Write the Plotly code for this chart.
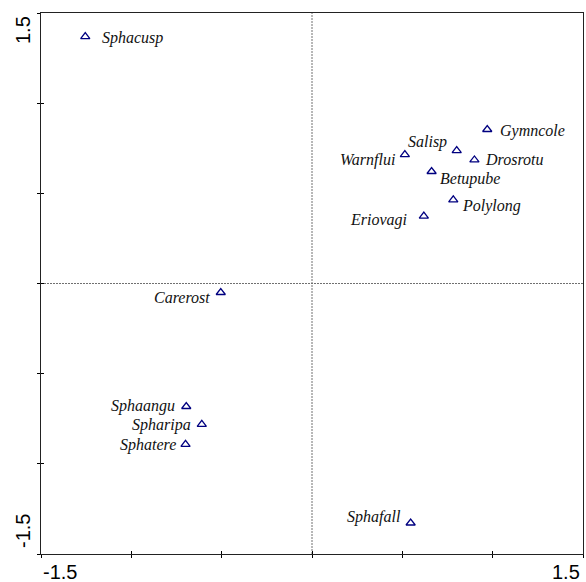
import plotly.graph_objects as go

# Species scores on the first two ordination axes
species = ["Sphacusp", "Gymncole", "Salisp", "Drosrotu", "Warnflui", "Betupube",
           "Polylong", "Eriovagi", "Carerost", "Sphaangu", "Spharipa", "Sphatere",
           "Sphafall"]
axis1 = [-1.255, 0.970, 0.801, 0.899, 0.514, 0.662,
         0.782, 0.619, -0.505, -0.696, -0.610, -0.700,
         0.546]
axis2 = [1.369, 0.854, 0.737, 0.685, 0.715, 0.621,
         0.464, 0.374, -0.050, -0.682, -0.781, -0.892,
         -1.328]

axis_min, axis_max = -1.5, 1.5
tick_vals = [-1.5, -1.0, -0.5, 0.0, 0.5, 1.0, 1.5]
end_labels = ["-1.5", "1.5"]

# label placement per species: (anchor, dx px, dy px)
label_place = {
    "Sphacusp": ("left", 15, -1),
    "Gymncole": ("left", 11, -1),
    "Salisp": ("right", -8, 9),
    "Drosrotu": ("left", 9, 0),
    "Warnflui": ("right", -8, -5),
    "Betupube": ("left", 6, -7),
    "Polylong": ("left", 7, -6),
    "Eriovagi": ("right", -15, -4),
    "Carerost": ("right", -9, -5),
    "Sphaangu": ("right", -9, 0),
    "Spharipa": ("right", -9, -1),
    "Sphatere": ("right", -8, -1),
    "Sphafall": ("right", -8, 6),
}

fig = go.Figure()

fig.add_trace(go.Scatter(
    x=axis1, y=axis2, mode="markers",
    marker=dict(symbol="triangle-up-open", size=8, color="#000080",
                line=dict(width=1.3, color="#000080")),
    hoverinfo="text", text=species, showlegend=False,
))

for name, xv, yv in zip(species, axis1, axis2):
    anchor, dx, dy = label_place[name]
    fig.add_annotation(
        x=xv, y=yv, xref="x", yref="y", text="<i>" + name + "</i>",
        showarrow=False, xanchor=anchor, yanchor="middle",
        xshift=dx, yshift=dy,
        font=dict(family="Liberation Serif", size=16, color="#111111"),
    )

# dashed reference lines through the origin
fig.add_vline(x=0, line=dict(color="#707070", width=1, dash="2px,1px"), layer="below")
fig.add_hline(y=0, line=dict(color="#707070", width=1, dash="2px,1px"), layer="below")

label_font = dict(family="Liberation Sans, Arial", size=20, color="#000000")
# axis end labels: x along the bottom, y rotated along the left side
fig.add_annotation(x=axis_min, y=0, xref="x", yref="paper", text=end_labels[0],
                   showarrow=False, xanchor="center", yanchor="middle",
                   xshift=19, yshift=-18, font=label_font)
fig.add_annotation(x=axis_max, y=0, xref="x", yref="paper", text=end_labels[1],
                   showarrow=False, xanchor="center", yanchor="middle",
                   xshift=-17, yshift=-18, font=label_font)
fig.add_annotation(x=0, y=axis_min, xref="paper", yref="y", text=end_labels[0],
                   showarrow=False, xanchor="center", yanchor="middle", textangle=-90,
                   xshift=-18, yshift=23, font=label_font)
fig.add_annotation(x=0, y=axis_max, xref="paper", yref="y", text=end_labels[1],
                   showarrow=False, xanchor="center", yanchor="middle", textangle=-90,
                   xshift=-18, yshift=-17, font=label_font)

common = dict(range=[axis_min, axis_max], tickvals=tick_vals, showticklabels=False,
              showgrid=False, zeroline=False, ticklen=3, tickwidth=1,
              tickcolor="#000000")

fig.update_layout(
    width=586, height=582,
    margin=dict(l=41, r=3, t=13, b=28),
    paper_bgcolor="white", plot_bgcolor="white",
    xaxis=dict(**common, ticks="outside", showline=True, linecolor="#222222",
               linewidth=1.3, mirror=True),
    yaxis=dict(**common, ticks="outside", showline=True, linecolor="#222222",
               linewidth=1.3, mirror=True),
    # overlaid axes supply the inner half of the crossing ticks
    xaxis2=dict(**common, ticks="inside", overlaying="x", side="bottom",
                showline=False),
    yaxis2=dict(**common, ticks="inside", overlaying="y", side="left",
                showline=False),
)
# invisible trace so the overlay axes are drawn
fig.add_trace(go.Scatter(x=[axis_min], y=[axis_min], xaxis="x2", yaxis="y2",
                         mode="markers", marker=dict(opacity=0), hoverinfo="skip",
                         showlegend=False))

fig.write_html("out.html")
